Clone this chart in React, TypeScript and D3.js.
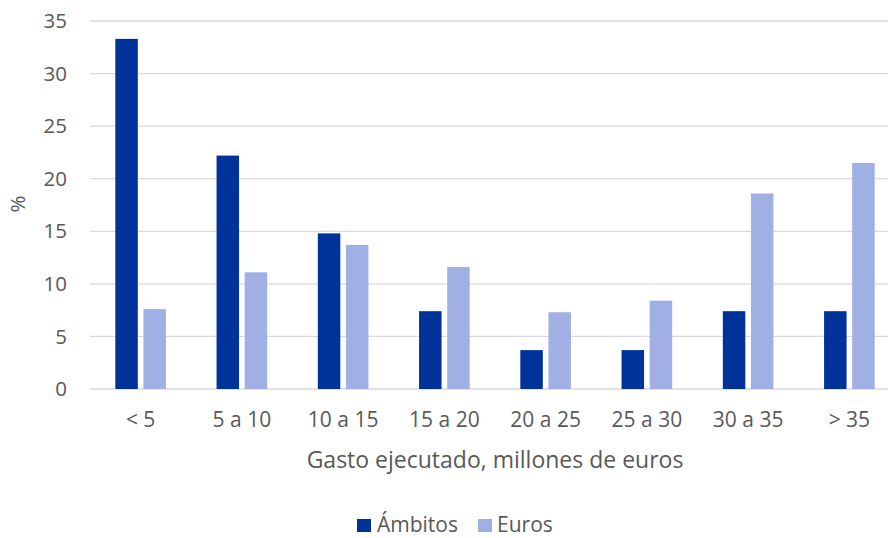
import React from 'react';
import { scaleBand, scaleLinear } from 'd3';

const categories = ['< 5', '5 a 10', '10 a 15', '15 a 20', '20 a 25', '25 a 30', '30 a 35', '> 35'];
const ambitos = [33.3, 22.2, 14.8, 7.4, 3.7, 3.7, 7.4, 7.4];
const euros = [7.6, 11.1, 13.7, 11.6, 7.3, 8.4, 18.6, 21.5];
const seriesNames = ['Ámbitos', 'Euros'];
const yTicks = [0, 5, 10, 15, 20, 25, 30, 35];

const colors = ['#003399', '#A0B0E4'];
const font = '"Open Sans", "Liberation Sans", sans-serif';

export default function App() {
  const width = 888;
  const height = 538;
  const left = 90;
  const right = 900;
  const top = 21;
  const bottom = 389;

  const x0 = scaleBand<string>().domain(categories).range([left, right]).paddingInner(0.5).paddingOuter(0.25);
  const x1 = scaleBand<string>().domain(seriesNames).range([0, x0.bandwidth()]).paddingInner(0.2);
  const y = scaleLinear().domain([0, 35]).range([bottom, top]);
  const data = [ambitos, euros];

  return (
    <svg width={width} height={height} style={{ position: 'absolute', left: 0, top: 0, background: '#fff' }}>
      {yTicks.map(t => (
        <g key={t}>
          <line x1={left} x2={width} y1={y(t)} y2={y(t)} stroke="#d9d9d9" strokeWidth={1.3} />
          <text x={67} y={y(t)} dy="0.35em" textAnchor="end" fontSize={20.5} fill="#595959" fontFamily={font}>
            {t}
          </text>
        </g>
      ))}
      {categories.map((c, i) => (
        <g key={c} transform={`translate(${x0(c)},0)`}>
          {seriesNames.map((s, j) => (
            <rect
              key={s}
              x={x1(s)}
              y={y(data[j][i])}
              width={x1.bandwidth()}
              height={bottom - y(data[j][i])}
              fill={colors[j]}
            />
          ))}
          <text
            x={x0.bandwidth() / 2}
            y={420}
            dy="0.35em"
            textAnchor="middle"
            fontSize={21}
            fill="#595959"
            fontFamily={font}>
            {c}
          </text>
        </g>
      ))}
      <text x={495} y={460} dy="0.35em" textAnchor="middle" fontSize={23} fill="#595959" fontFamily={font}>
        Gasto ejecutado, millones de euros
      </text>
      <text
        transform="translate(18,204) rotate(-90)"
        dy="0.35em"
        textAnchor="middle"
        fontSize={20.5}
        fill="#595959"
        fontFamily={font}>
        %
      </text>
      <g transform="translate(357,525)">
        <rect x={0} y={-6} width={14} height={13} fill={colors[0]} />
        <text x={20} y={0} dy="0.35em" fontSize={21} fill="#595959" fontFamily={font}>
          {seriesNames[0]}
        </text>
        <rect x={121} y={-6} width={14} height={13} fill={colors[1]} />
        <text x={140} y={0} dy="0.35em" fontSize={21} fill="#595959" fontFamily={font}>
          {seriesNames[1]}
        </text>
      </g>
    </svg>
  );
}
